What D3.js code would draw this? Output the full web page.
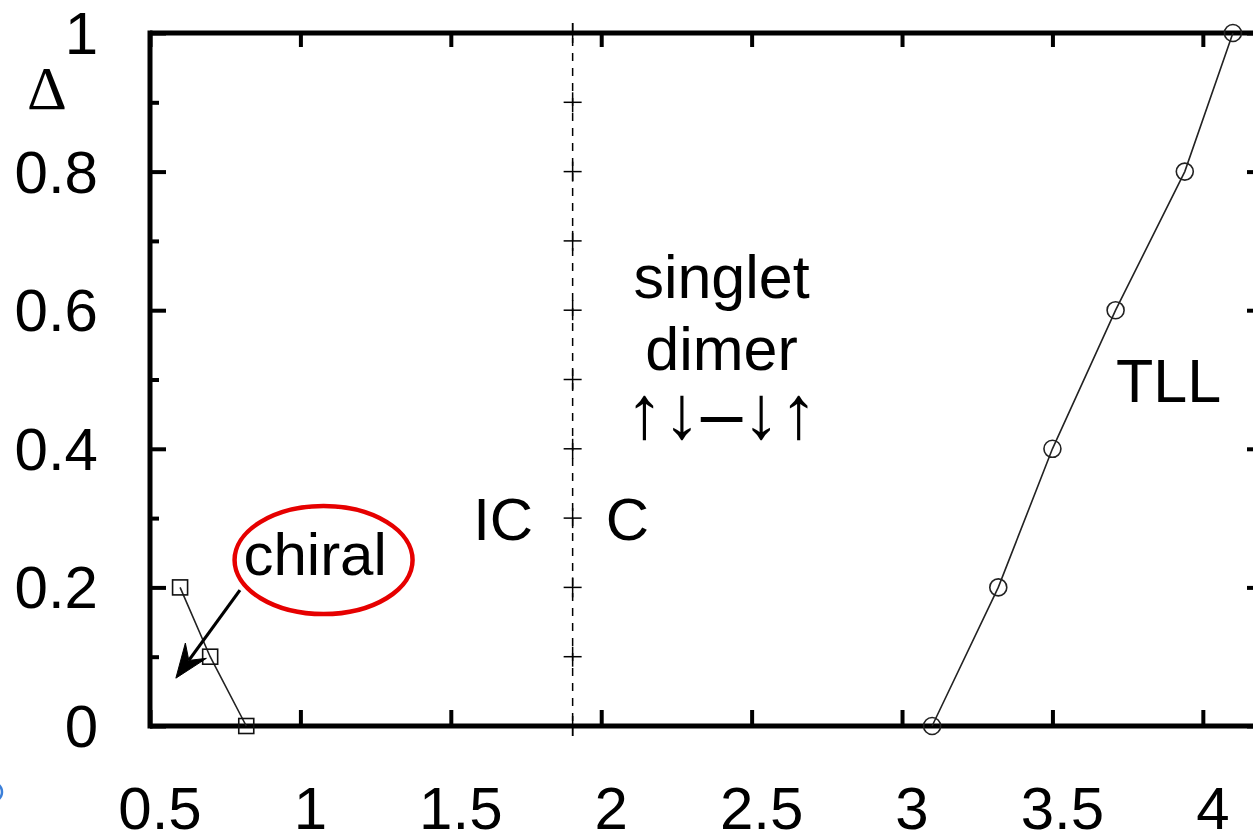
<!DOCTYPE html>
<html>
<head>
<meta charset="utf-8">
<script src="https://cdn.jsdelivr.net/npm/d3@7"></script>
<style>
  html, body { margin: 0; padding: 0; background: #fff; overflow: hidden; }
  svg { display: block; }
  text { font-family: "Liberation Sans", Arial, sans-serif; fill: #000; }
</style>
</head>
<body>
<svg id="chart" width="1253" height="833"></svg>
<script>
// ---- data ----
const xTicks = [0.5, 1, 1.5, 2, 2.5, 3, 3.5, 4];
const xTickLabels = ["0.5", "1", "1.5", "2", "2.5", "3", "3.5", "4"];
const yTicks = [0, 0.2, 0.4, 0.6, 0.8, 1];
const yTickLabels = ["0", "0.2", "0.4", "0.6", "0.8", "1"];
const yMinorTicks = [0.1, 0.3, 0.5, 0.7, 0.9];

const chiralX = [0.6, 0.7, 0.82];
const chiralY = [0.2, 0.1, 0];

const tllX = [3.1, 3.32, 3.5, 3.71, 3.94, 4.1];
const tllY = [0, 0.2, 0.4, 0.6, 0.8, 1];

const boundaryX = 1.905;
const boundaryCrossY = [0, 0.1, 0.2, 0.3, 0.4, 0.5, 0.6, 0.7, 0.8, 0.9, 1];

// ---- layout ----
const svg = d3.select("#chart");
const x = d3.scaleLinear().domain([0.5, 4.2]).range([150, 1263]);
const y = d3.scaleLinear().domain([0, 1]).range([726, 33]);
const axisW = 5;

// frame
const frame = svg.append("g");
frame.append("line").attr("x1", x(0.5)).attr("x2", x(4.2)).attr("y1", y(0)).attr("y2", y(0));
frame.append("line").attr("x1", x(0.5)).attr("x2", x(4.2)).attr("y1", y(1)).attr("y2", y(1));
frame.append("line").attr("x1", x(0.5)).attr("x2", x(0.5)).attr("y1", y(0) + axisW/2).attr("y2", y(1) - axisW/2);
frame.append("line").attr("x1", x(4.2)).attr("x2", x(4.2)).attr("y1", y(0) + axisW/2).attr("y2", y(1) - axisW/2);
frame.selectAll("line").attr("stroke", "#000").attr("stroke-width", axisW);

// ticks via d3 axes (inward)
const major = 16, minor = 9;
function styleAxis(g) {
  g.select(".domain").remove();
  g.selectAll(".tick line").attr("stroke", "#000").attr("stroke-width", 4);
  g.selectAll(".tick text").remove();
}
svg.append("g").attr("transform", `translate(0,${y(0)})`)
  .call(d3.axisTop(x).tickValues(xTicks).tickSize(major)).call(styleAxis);
svg.append("g").attr("transform", `translate(0,${y(1)})`)
  .call(d3.axisBottom(x).tickValues(xTicks).tickSize(major - 2)).call(styleAxis);
svg.append("g").attr("transform", `translate(${x(0.5)},0)`)
  .call(d3.axisRight(y).tickValues(yTicks).tickSize(major)).call(styleAxis);
svg.append("g").attr("transform", `translate(${x(0.5)},0)`)
  .call(d3.axisRight(y).tickValues(yMinorTicks).tickSize(minor)).call(styleAxis);
svg.append("g").attr("transform", `translate(${x(4.2)},0)`)
  .call(d3.axisLeft(y).tickValues(yTicks).tickSize(major)).call(styleAxis);
svg.append("g").attr("transform", `translate(${x(4.2)},0)`)
  .call(d3.axisLeft(y).tickValues(yMinorTicks).tickSize(minor)).call(styleAxis);

// tick labels
svg.append("g").selectAll("text").data(xTicks).join("text")
  .attr("x", d => x(d) + 10).attr("y", 829)
  .attr("text-anchor", "middle").attr("font-size", 60)
  .text((d, i) => xTickLabels[i]);
svg.append("g").selectAll("text").data(yTicks).join("text")
  .attr("x", 98).attr("y", d => y(d) + 21)
  .attr("text-anchor", "end").attr("font-size", 60)
  .text((d, i) => yTickLabels[i]);

// axis symbol
svg.append("text").attr("x", 47).attr("y", 109).attr("text-anchor", "middle")
  .attr("font-size", 62).style("font-family", "'Liberation Serif', 'Times New Roman', serif")
  .text("Δ");

// boundary dashed line with crosses
svg.append("line")
  .attr("x1", x(boundaryX)).attr("x2", x(boundaryX))
  .attr("y1", y(1) - 10).attr("y2", y(0) + 11)
  .attr("stroke", "#000").attr("stroke-width", 1.5).attr("stroke-dasharray", "8,7");
const crosses = svg.append("g").selectAll("g").data(boundaryCrossY).join("g")
  .attr("transform", d => `translate(${x(boundaryX)},${y(d)})`);
crosses.append("line").attr("x1", -9).attr("x2", 9).attr("y1", 0).attr("y2", 0);
crosses.append("line").attr("x1", 0).attr("x2", 0).attr("y1", -10).attr("y2", 10);
crosses.selectAll("line").attr("stroke", "#000").attr("stroke-width", 1.5);

// series lines
const line = d3.line().x(d => x(d[0])).y(d => y(d[1]));
const chiral = chiralX.map((v, i) => [v, chiralY[i]]);
const tll = tllX.map((v, i) => [v, tllY[i]]);
svg.append("path").datum(chiral).attr("d", line)
  .attr("fill", "none").attr("stroke", "#222").attr("stroke-width", 1.6);
svg.append("path").datum(tll).attr("d", line)
  .attr("fill", "none").attr("stroke", "#222").attr("stroke-width", 1.6);

// markers
const sq = 15;
svg.append("g").selectAll("rect").data(chiral).join("rect")
  .attr("x", d => x(d[0]) - sq/2).attr("y", d => y(d[1]) - sq/2)
  .attr("width", sq).attr("height", sq)
  .attr("fill", "none").attr("stroke", "#111").attr("stroke-width", 1.6);
svg.append("g").selectAll("circle").data(tll).join("circle")
  .attr("cx", d => x(d[0])).attr("cy", d => y(d[1])).attr("r", 8.5)
  .attr("fill", "none").attr("stroke", "#222").attr("stroke-width", 1.6);

// annotations
function label(txt, xv, yv, size) {
  return svg.append("text").attr("x", x(xv)).attr("y", y(yv))
    .attr("text-anchor", "middle").attr("font-size", size || 60).text(txt);
}
label("singlet", 2.40, 0.618, 61);
label("dimer", 2.40, 0.514, 61);
label("↑↓–↓↑", 2.40, 0.416, 75);
label("IC", 1.674, 0.268);
label("C", 2.087, 0.268);
label("TLL", 3.886, 0.4675, 61);
label("chiral", 1.049, 0.218);

// red ellipse around "chiral"
svg.append("ellipse").attr("cx", x(1.077)).attr("cy", y(0.2395))
  .attr("rx", 89).attr("ry", 54)
  .attr("fill", "none").attr("stroke", "#e60000").attr("stroke-width", 4.5);

// arrow from ellipse to chiral phase
const a0 = [x(0.799), y(0.196)], a1 = [x(0.586), y(0.069)];
const dx = a1[0] - a0[0], dy = a1[1] - a0[1], L = Math.hypot(dx, dy);
const ux = dx / L, uy = dy / L, px = -uy, py = ux;
const hl = 34, hw = 13, notch = 22;
svg.append("line").attr("x1", a0[0]).attr("y1", a0[1])
  .attr("x2", a1[0] - ux * notch).attr("y2", a1[1] - uy * notch)
  .attr("stroke", "#000").attr("stroke-width", 3.2);
svg.append("path")
  .attr("d", `M${a1[0]},${a1[1]}
    L${a1[0] - ux*hl + px*hw},${a1[1] - uy*hl + py*hw}
    L${a1[0] - ux*notch},${a1[1] - uy*notch}
    L${a1[0] - ux*hl - px*hw},${a1[1] - uy*hl - py*hw}Z`)
  .attr("fill", "#000").attr("stroke", "#000").attr("stroke-width", 1);

// small blue fragment at the left edge
svg.append("ellipse").attr("cx", -9).attr("cy", 792).attr("rx", 11).attr("ry", 10)
  .attr("fill", "none").attr("stroke", "#3b7fd9").attr("stroke-width", 2.5);
</script>
</body>
</html>
